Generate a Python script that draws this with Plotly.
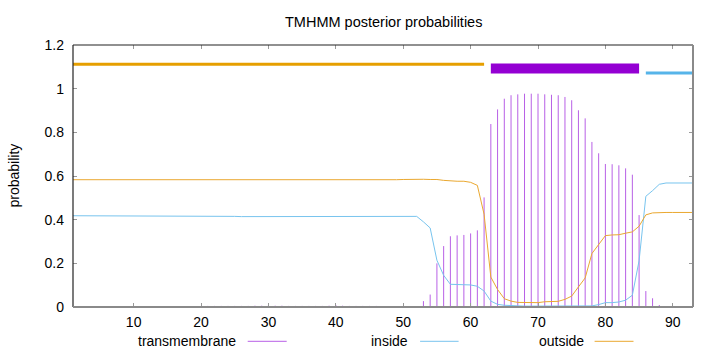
import plotly.graph_objects as go

# ---------------- data ----------------
positions = list(range(1, 94))

transmembrane = [
    0.000, 0.000, 0.000, 0.000, 0.000, 0.000, 0.000, 0.001, 0.001, 0.001,
    0.001, 0.001, 0.001, 0.001, 0.001, 0.001, 0.001, 0.001, 0.002, 0.002,
    0.005, 0.005, 0.005, 0.005, 0.005, 0.005, 0.005, 0.006, 0.006, 0.009,
    0.006, 0.006, 0.005, 0.005, 0.005, 0.005, 0.005, 0.005, 0.006, 0.009,
    0.006, 0.005, 0.005, 0.005, 0.005, 0.005, 0.004, 0.003, 0.003, 0.002,
    0.002, 0.003, 0.027, 0.057, 0.200, 0.279, 0.324, 0.328, 0.330, 0.337,
    0.351, 0.502, 0.838, 0.905, 0.954, 0.970, 0.974, 0.977, 0.977, 0.977,
    0.974, 0.972, 0.970, 0.962, 0.947, 0.901, 0.864, 0.756, 0.704, 0.655,
    0.654, 0.649, 0.635, 0.606, 0.421, 0.073, 0.040, 0.009, 0.002, 0.001,
    0.000, 0.000, 0.000,
]

inside = [
    0.418, 0.418, 0.418, 0.418, 0.418, 0.418, 0.418, 0.418, 0.418, 0.418,
    0.418, 0.418, 0.418, 0.418, 0.418, 0.418, 0.418, 0.418, 0.418, 0.418,
    0.418, 0.418, 0.418, 0.417, 0.415, 0.414, 0.414, 0.414, 0.414, 0.414,
    0.414, 0.414, 0.414, 0.414, 0.414, 0.414, 0.414, 0.414, 0.414, 0.414,
    0.414, 0.415, 0.416, 0.417, 0.417, 0.417, 0.417, 0.417, 0.417, 0.417,
    0.417, 0.415, 0.390, 0.362, 0.214, 0.145, 0.104, 0.103, 0.102, 0.101,
    0.095, 0.073, 0.027, 0.012, 0.008, 0.006, 0.005, 0.004, 0.004, 0.004,
    0.004, 0.004, 0.004, 0.004, 0.004, 0.004, 0.004, 0.005, 0.011, 0.020,
    0.020, 0.023, 0.031, 0.054, 0.212, 0.507, 0.533, 0.562, 0.568, 0.568,
    0.568, 0.568, 0.568,
]

outside = [
    0.583, 0.583, 0.583, 0.583, 0.583, 0.583, 0.583, 0.583, 0.583, 0.583,
    0.583, 0.583, 0.583, 0.583, 0.583, 0.583, 0.583, 0.583, 0.582, 0.581,
    0.580, 0.580, 0.580, 0.580, 0.580, 0.580, 0.580, 0.580, 0.580, 0.580,
    0.580, 0.580, 0.580, 0.580, 0.580, 0.580, 0.580, 0.580, 0.580, 0.580,
    0.580, 0.580, 0.580, 0.580, 0.580, 0.580, 0.581, 0.582, 0.583, 0.584,
    0.585, 0.585, 0.585, 0.584, 0.584, 0.580, 0.577, 0.576, 0.576, 0.571,
    0.557, 0.425, 0.137, 0.080, 0.038, 0.027, 0.021, 0.020, 0.020, 0.020,
    0.024, 0.026, 0.026, 0.035, 0.050, 0.092, 0.133, 0.245, 0.287, 0.327,
    0.330, 0.331, 0.338, 0.344, 0.370, 0.422, 0.431, 0.433, 0.433, 0.433,
    0.433, 0.433, 0.433,
]

# predicted topology segments (start, end, type)
topo_start = [1, 63, 86]
topo_end = [62, 85, 93]
topo_type = ["outside", "TMhelix", "inside"]

x_ticks = [10, 20, 30, 40, 50, 60, 70, 80, 90]
y_ticks = [0, 0.2, 0.4, 0.6, 0.8, 1.0, 1.2]

# ---------------- styles ----------------
FONT = "Liberation Sans, Arial, sans-serif"
C_TM = "#b860e6"
C_IN = "#78c4ee"
C_OUT = "#eaa830"
topo_style = {
    "outside": dict(level=1.112, color="#e69f00", width=3),
    "TMhelix": dict(level=1.092, color="#9400d3", width=10),
    "inside": dict(level=1.072, color="#56b4e9", width=3),
}

fig = go.Figure()

# impulses for transmembrane probability
ix, iy = [], []
for p, v in zip(positions, transmembrane):
    ix += [p, p, None]
    iy += [0, v, None]
fig.add_trace(go.Scatter(x=ix, y=iy, mode="lines",
                         line=dict(color=C_TM, width=1), hoverinfo="skip"))

fig.add_trace(go.Scatter(x=positions, y=inside, mode="lines",
                         line=dict(color=C_IN, width=1)))
fig.add_trace(go.Scatter(x=positions, y=outside, mode="lines",
                         line=dict(color=C_OUT, width=1)))

for s, e, t in zip(topo_start, topo_end, topo_type):
    st = topo_style[t]
    fig.add_trace(go.Scatter(x=[s, e], y=[st["level"], st["level"]], mode="lines",
                             line=dict(color=st["color"], width=st["width"])))

# plot geometry (pixels)
L, R, T, B = 73, 693, 45, 307
W, H = R - L, B - T


def px_x(px):
    return (px - L) / W


def px_y(py):
    return (B - py) / H


shapes = [
    dict(type="line", xref="paper", yref="paper", x0=0, x1=0, y0=0, y1=1,
         line=dict(color="#222222", width=1.2)),
    dict(type="line", xref="paper", yref="paper", x0=0, x1=1, y0=1, y1=1,
         line=dict(color="#222222", width=1.2)),
    dict(type="line", xref="paper", yref="paper", x0=0, x1=1, y0=0, y1=0,
         line=dict(color="#8a8a8a", width=2)),
    dict(type="line", xref="paper", yref="paper", x0=1, x1=1, y0=0, y1=1,
         line=dict(color="#8a8a8a", width=2)),
]

legend_items = [
    ("transmembrane", 238.3, 247.7, 286.7, C_TM),
    ("inside", 410.2, 420.1, 458.6, C_IN),
    ("outside", 585.5, 594.6, 633.5, C_OUT),
]
annotations = [
    dict(text="TMHMM posterior probabilities", xref="paper", yref="paper",
         x=0.5, y=px_y(22.3), xanchor="center", yanchor="middle",
         showarrow=False, font=dict(family=FONT, size=14.5, color="black")),
    dict(text="probability", xref="paper", yref="paper",
         x=px_x(13.5), y=0.5, xanchor="center", yanchor="middle", textangle=-90,
         showarrow=False, font=dict(family=FONT, size=14, color="black")),
]
ly = px_y(341.3)
for name, tx, l0, l1, col in legend_items:
    annotations.append(dict(text=name, xref="paper", yref="paper", x=px_x(tx), y=ly,
                            xanchor="right", yanchor="middle", showarrow=False,
                            font=dict(family=FONT, size=14, color="black")))
    shapes.append(dict(type="line", xref="paper", yref="paper",
                       x0=px_x(l0), x1=px_x(l1), y0=ly, y1=ly,
                       line=dict(color=col, width=1)))

fig.update_layout(
    width=720, height=352,
    margin=dict(l=L, r=720 - R, t=T, b=352 - B, pad=0),
    paper_bgcolor="white", plot_bgcolor="white",
    showlegend=False,
    font=dict(family=FONT, size=14, color="black"),
    shapes=shapes, annotations=annotations,
    xaxis=dict(range=[1, 93], tickvals=x_ticks, ticks="inside", ticklen=4,
               tickcolor="#999999", mirror="ticks", showline=False, showgrid=False,
               zeroline=False, ticklabelstandoff=5,
               tickfont=dict(family=FONT, size=14, color="black")),
    yaxis=dict(range=[0, 1.2], tickvals=y_ticks, ticks="inside", ticklen=4,
               tickcolor="#999999", mirror="ticks", showline=False, showgrid=False,
               zeroline=False, ticklabelstandoff=8,
               tickfont=dict(family=FONT, size=14, color="black")),
)

fig.write_html("out.html")
